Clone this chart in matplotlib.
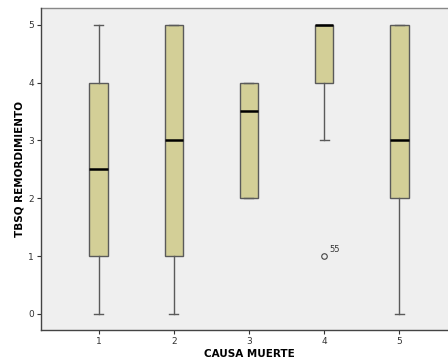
import matplotlib
matplotlib.use("Agg")
import matplotlib.pyplot as plt

categories = ["1", "2", "3", "4", "5"]
whislo = [0, 0, 2, 3, 0]
q1 = [1, 1, 2, 4, 2]
med = [2.5, 3, 3.5, 5, 3]
q3 = [4, 5, 4, 5, 5]
whishi = [5, 5, 4, 5, 5]
outliers = [[], [], [], [1], []]
outlier_labels = {3: "55"}

stats = []
for i, c in enumerate(categories):
    stats.append(dict(label=c, whislo=whislo[i], q1=q1[i], med=med[i],
                      q3=q3[i], whishi=whishi[i], fliers=outliers[i]))

fig = plt.figure(figsize=(4.48, 3.63), dpi=100)
ax = fig.add_axes([41/448, 1 - 330/363, (448*1.02 - 41)/448, (330 - 8)/363])
ax.set_facecolor("#efefef")
fig.patch.set_facecolor("white")

pos = list(range(1, len(categories) + 1))
ax.bxp(stats, positions=pos, widths=0.25, patch_artist=True,
       boxprops=dict(facecolor="#d3cf97", edgecolor="#5a5a5a", linewidth=1.0),
       medianprops=dict(color="black", linewidth=1.8),
       whiskerprops=dict(color="#5a5a5a", linewidth=1.0),
       capprops=dict(color="#5a5a5a", linewidth=1.0),
       capwidths=0.12,
       flierprops=dict(marker="o", markerfacecolor="none", markeredgecolor="#444444",
                       markersize=4, markeredgewidth=0.8))
for i, lab in outlier_labels.items():
    for v in outliers[i]:
        ax.annotate(lab, (pos[i], v), xytext=(4, 3), textcoords="offset points",
                    fontsize=6, color="#333333")

ax.set_ylim(-0.28, 5.29)
ax.set_xlim(0.23, 5.77)
ax.set_yticks([0, 1, 2, 3, 4, 5])
ax.set_xticks(pos)
ax.set_xticklabels(categories)
ax.tick_params(labelsize=6.5, colors="#333333", length=3, width=0.8, pad=2)
for s in ["top", "right"]:
    ax.spines[s].set_visible(False)
for s in ["left", "bottom"]:
    ax.spines[s].set_color("#444444")
    ax.spines[s].set_linewidth(1.0)
ax.axhline(5.29, color="#888888", linewidth=1.0, clip_on=False)

ax.set_xlabel("CAUSA MUERTE", fontsize=7.5, fontweight="bold", labelpad=2)
ax.set_ylabel("TBSQ REMORDIMIENTO", fontsize=7.5, fontweight="bold", labelpad=2.5)

fig.savefig("out.png", dpi=100)
